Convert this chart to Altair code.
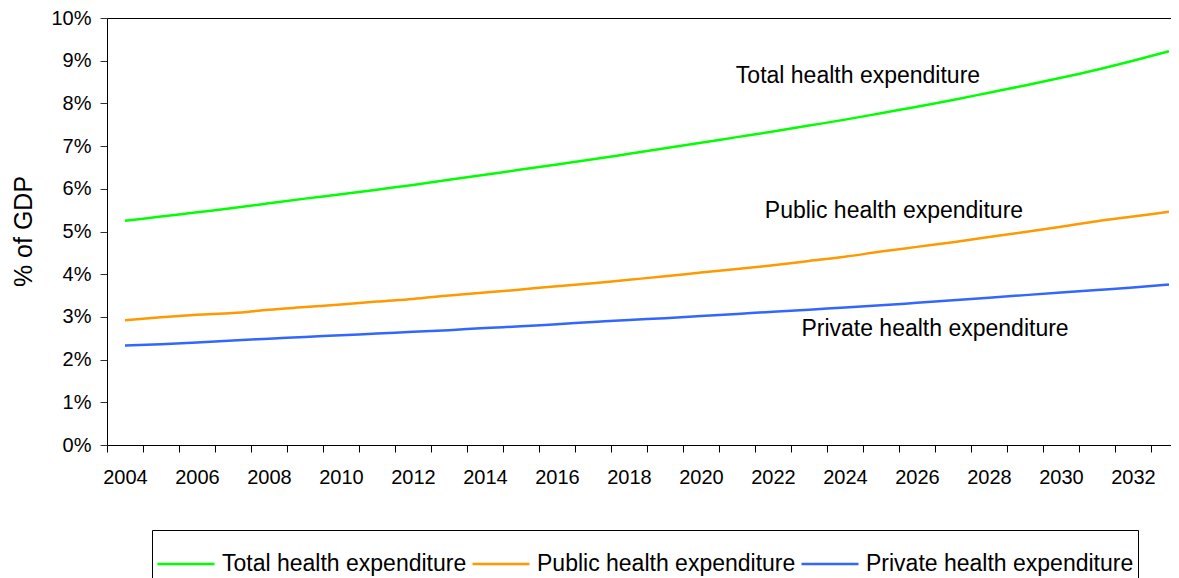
import altair as alt
import pandas as pd

years = list(range(2004, 2034))
total = [5.25, 5.35, 5.45, 5.55, 5.66, 5.77, 5.87, 5.98, 6.09, 6.21,
         6.33, 6.45, 6.57, 6.69, 6.82, 6.95, 7.08, 7.21, 7.34, 7.48,
         7.62, 7.77, 7.92, 8.08, 8.25, 8.42, 8.60, 8.79, 9.00, 9.22]
public = [2.92, 2.99, 3.05, 3.09, 3.17, 3.23, 3.29, 3.36, 3.42, 3.50,
          3.57, 3.64, 3.72, 3.79, 3.87, 3.95, 4.04, 4.12, 4.21, 4.31,
          4.41, 4.53, 4.64, 4.75, 4.87, 4.99, 5.11, 5.24, 5.35, 5.46]
private = [2.33, 2.36, 2.40, 2.45, 2.49, 2.53, 2.57, 2.61, 2.65, 2.69,
           2.74, 2.78, 2.83, 2.88, 2.93, 2.97, 3.02, 3.07, 3.12, 3.17,
           3.22, 3.27, 3.33, 3.39, 3.45, 3.51, 3.57, 3.63, 3.69, 3.76]

series_names = ["Total health expenditure", "Public health expenditure", "Private health expenditure"]
series_colors = ["#00FF00", "#FF9900", "#3366FF"]

label_years = [2004, 2006, 2008, 2010, 2012, 2014, 2016, 2018, 2020, 2022,
               2024, 2026, 2028, 2030, 2032]
y_ticks = [0.0, 0.01, 0.02, 0.03, 0.04, 0.05, 0.06, 0.07, 0.08, 0.09, 0.10]

# annotation anchors (year, % of GDP)
ann_year = [2024.36, 2025.36, 2026.5]
ann_value = [8.64, 5.48, 2.72]

rows = []
for name, vals in zip(series_names, [total, public, private]):
    for y, v in zip(years, vals):
        rows.append({"year": y, "value": v / 100.0, "series": name})
df = pd.DataFrame(rows)

ann = pd.DataFrame({"year": ann_year, "value": [v / 100.0 for v in ann_value], "label": series_names})

PLOT_W = 1064
PLOT_H = 427
x_min = years[0] - 0.5
x_max = x_min + PLOT_W / 36.0
tick_vals = [y - 0.5 for y in years if y - 0.5 <= x_max]

xscale = alt.Scale(domain=[x_min, x_max], nice=False, zero=False)
yscale = alt.Scale(domain=[0, 0.10], nice=False)

label_expr = f"indexof({label_years}, datum.value + 0.5) >= 0 ? toString(datum.value + 0.5) : ''"

y_axis = alt.Axis(values=y_ticks, format=".0%", tickSize=7, tickColor="#333333",
                  domainColor="black", labelFontSize=20, labelPadding=9,
                  labelColor="black", grid=False,
                  title="% of GDP", titleFontSize=25, titleFontWeight="normal",
                  titleColor="black", titleX=-84, titleY=213, titleAngle=270,
                  titleAlign="center", titleBaseline="middle")

lines = alt.Chart(df).mark_line(strokeWidth=2.5, interpolate="monotone").encode(
    x=alt.X("year:Q", scale=xscale,
            axis=alt.Axis(orient="bottom", values=tick_vals, labelExpr=label_expr,
                          labelOffset=18, labelOverlap=False, labelBound=False, labelFlush=False,
                          tickSize=7, tickColor="black", domainColor="black",
                          labelFontSize=20, labelPadding=15, labelColor="black",
                          grid=False, title=None)),
    y=alt.Y("value:Q", scale=yscale, axis=y_axis),
    color=alt.Color("series:N",
                    scale=alt.Scale(domain=series_names, range=series_colors),
                    legend=alt.Legend(orient="none", legendX=45, legendY=512,
                                      direction="horizontal", title=None,
                                      symbolType="stroke", symbolSize=3249,
                                      symbolStrokeWidth=2.5, labelFontSize=23,
                                      labelOffset=6, columnPadding=0, padding=4,
                                      strokeColor="black", fillColor="white",
                                      labelLimit=400, labelColor="black")),
)

texts = alt.Chart(ann).mark_text(fontSize=23, color="black", align="center", baseline="middle").encode(
    x=alt.X("year:Q", scale=xscale,
            axis=alt.Axis(orient="top", ticks=False, labels=False, domain=True,
                          domainColor="black", grid=False, title=None)),
    y=alt.Y("value:Q", scale=yscale, axis=y_axis),
    text="label:N",
)

chart = alt.layer(lines, texts).resolve_axis(x="independent").properties(
    width=PLOT_W,
    height=PLOT_H,
    autosize=alt.AutoSizeParams(type="none"),
    padding={"left": 99, "top": 10, "right": 0, "bottom": 133},
).configure(font="Liberation Sans").configure_view(stroke=None)

chart.save("out.html", embed_options={"renderer": "svg", "actions": False})
